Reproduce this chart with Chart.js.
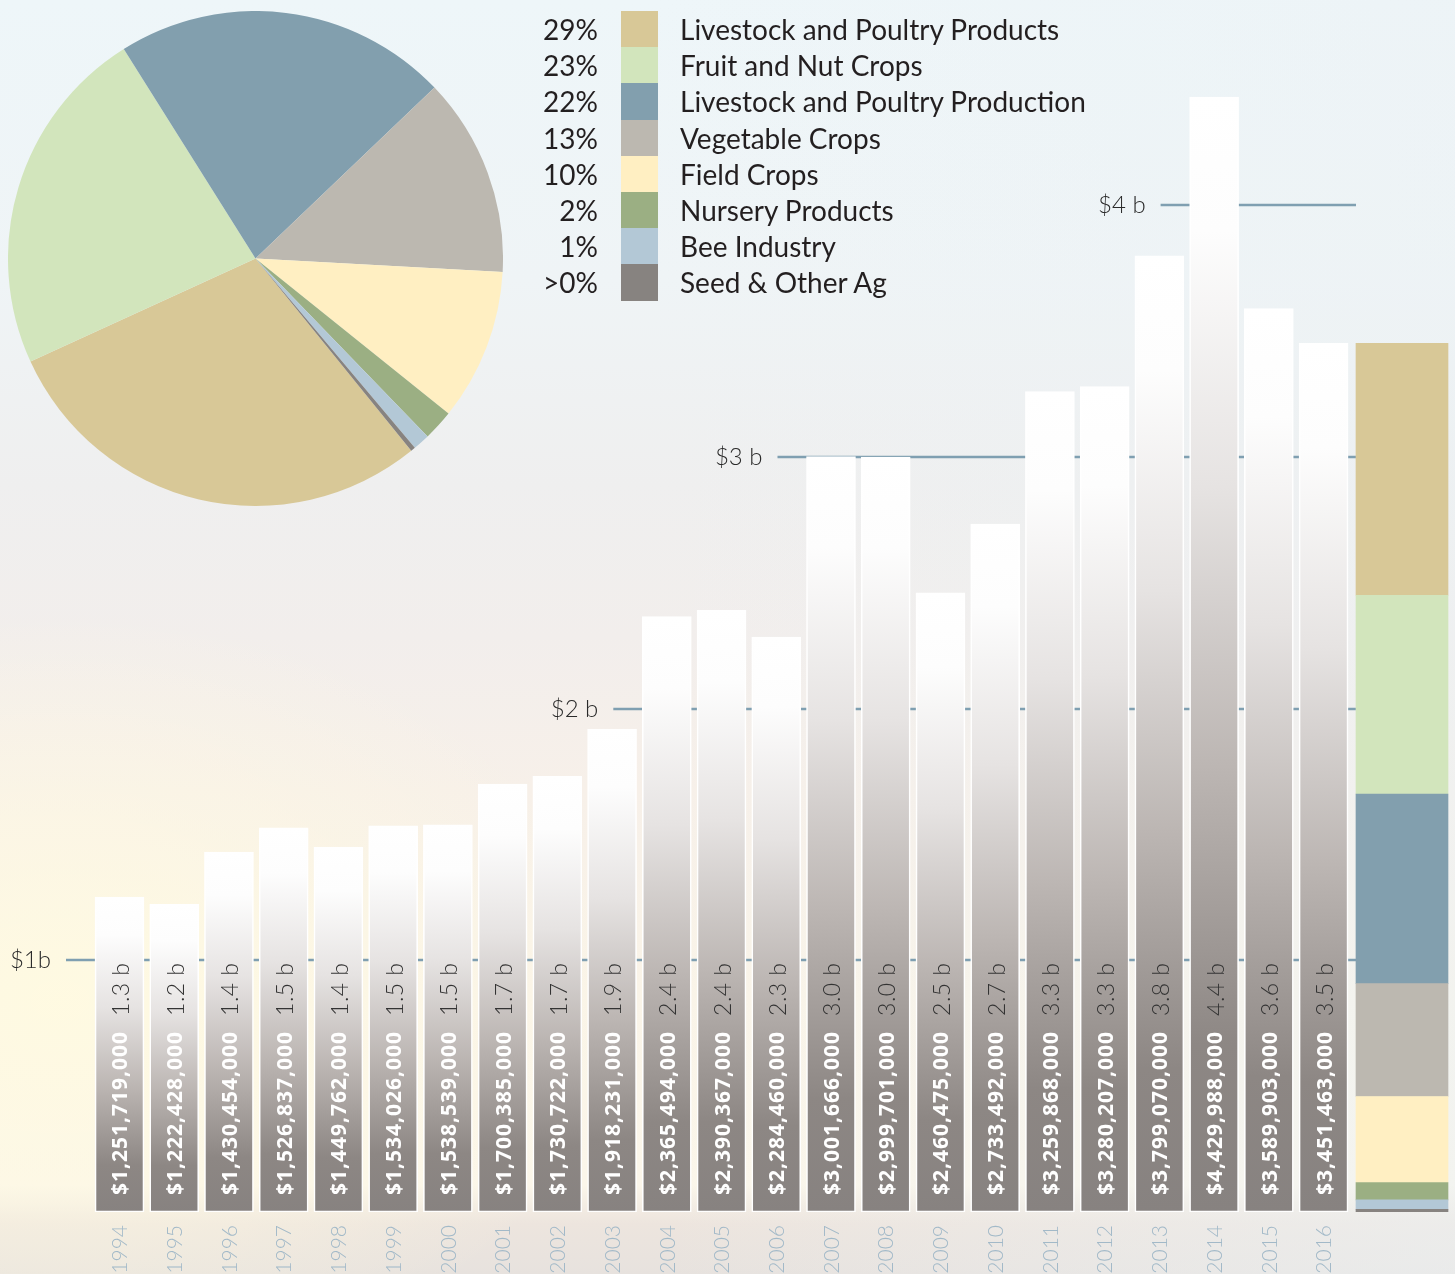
<!DOCTYPE html>
<html><head><meta charset="utf-8">
<script src="https://cdn.jsdelivr.net/npm/chart.js@4.4.0/dist/chart.umd.min.js"></script>
<style>
html,body{margin:0;padding:0;width:1455px;height:1274px;overflow:hidden;}
body{position:relative;
background:
 radial-gradient(ellipse 760px 520px at 60px 1000px, rgba(255,250,225,0.95), rgba(255,250,225,0) 75%),
 linear-gradient(to right, rgba(236,242,245,0) 45%, rgba(236,242,245,0.55) 100%),
 linear-gradient(to bottom, #eef6f9 0%, #eff4f6 22%, #efefef 38%, #f2eeec 50%, #f7f0e9 62%, #faf4e8 78%, #fbf6ea 93%, #ede5de 96%, #e7e2de 100%);
}
#main{position:absolute;left:0;top:0;}
#pieBox{position:absolute;left:8px;top:11px;width:495px;height:495px;}
#legend{position:absolute;left:520px;top:11px;font-family:Lato,"Open Sans",sans-serif;font-size:28px;color:#231f20;}
.row{height:36.2px;display:flex;align-items:center;white-space:nowrap;}
.pct{width:78px;text-align:right;}
.sw{width:37px;height:36.2px;margin-left:23px;}
.lab{margin-left:22px;}
</style>
</head><body>
<canvas id="main" width="1455" height="1274"></canvas>
<div id="pieBox"><canvas id="pie" width="495" height="495"></canvas></div>
<div id="legend"></div>
<script>
// ---- data ----
const years = [1994,1995,1996,1997,1998,1999,2000,2001,2002,2003,2004,2005,2006,2007,2008,2009,2010,2011,2012,2013,2014,2015,2016];
const values = [1251719000,1222428000,1430454000,1526837000,1449762000,1534026000,1538539000,1700385000,1730722000,1918231000,2365494000,2390367000,2284460000,3001666000,2999701000,2460475000,2733492000,3259868000,3280207000,3799070000,4429988000,3589903000,3451463000];
const categories = ["Livestock and Poultry Products","Fruit and Nut Crops","Livestock and Poultry Production","Vegetable Crops","Field Crops","Nursery Products","Bee Industry","Seed & Other Ag"];
const shares = [29.0,22.9,21.8,13.0,9.9,2.0,1.1,0.3];
const shareLabels = ["29%","23%","22%","13%","10%","2%","1%",">0%"];
const colors = ["#d8c897","#d2e5bc","#829fae","#bcb8b0","#ffefc2","#9baf83","#b3c8d6","#878380"];
const tickValues = [1e9,2e9,3e9,4e9];
const tickLabels = ["$1b","$2 b","$3 b","$4 b"];

// ---- layout constants ----
const xMin = 1991.8165, xMax = 2018.4015;
const stackX = 2017.433;
const barW = 49, stackW = 92;
const yMax = 4.8158e9;

function barFill(ctx){
  const chart = ctx.chart;
  if (ctx.type !== 'data' || !chart.chartArea) return '#ffffff';
  const ys = chart.scales.y;
  const top = ys.getPixelForValue(ctx.raw.y), base = ys.getPixelForValue(0);
  const g = chart.ctx.createLinearGradient(0, top, 0, base);
  g.addColorStop(0, '#ffffff');
  g.addColorStop(0.12, '#fdfdfd');
  g.addColorStop(0.35, '#e6e3e2');
  g.addColorStop(0.6, '#bcb6b3');
  g.addColorStop(0.85, '#8d8784');
  g.addColorStop(1, '#878280');
  return g;
}

const fmt = v => '$' + v.toLocaleString('en-US');
const short = v => (v/1e9).toFixed(1) + ' b';

const decor = {
  id:'decor',
  beforeDatasetsDraw(chart){
    const c = chart.ctx, xs = chart.scales.x, ys = chart.scales.y;
    const stackLeft = xs.getPixelForValue(stackX) - stackW/2;
    tickValues.forEach((v,k)=>{
      const i = values.findIndex(d => d >= v);
      const x0 = xs.getPixelForValue(years[i]) - barW/2 - 29;
      const y = Math.round(ys.getPixelForValue(v));
      c.save();
      c.strokeStyle = '#7f9fb1'; c.lineWidth = 2.5;
      c.beginPath(); c.moveTo(x0, y); c.lineTo(stackLeft, y); c.stroke();
      c.font = '300 24px Lato, "Open Sans", sans-serif';
      c.fillStyle = '#2a2a2a'; c.textAlign = 'right'; c.textBaseline = 'middle';
      c.fillText(tickLabels[k], x0 - 15, y);
      c.restore();
    });
  },
  afterDatasetsDraw(chart){
    const c = chart.ctx, xs = chart.scales.x, ys = chart.scales.y;
    const base = ys.getPixelForValue(0);
    years.forEach((yr,i)=>{
      const cx = xs.getPixelForValue(yr);
      c.save();
      c.translate(cx + 2, base - 17);
      c.rotate(-Math.PI/2);
      c.textAlign = 'left'; c.textBaseline = 'middle';
      c.font = 'bold 21px "Open Sans", Lato, sans-serif';
      c.letterSpacing = '1px';
      c.fillStyle = '#ffffff';
      const t = fmt(values[i]);
      c.fillText(t, 0, 0);
      const w = c.measureText(t).width;
      c.letterSpacing = '0.5px';
      c.font = '300 23px Lato, "Open Sans", sans-serif';
      c.fillStyle = '#333333';
      c.fillText(short(values[i]), w + 15, 0);
      c.restore();
      c.save();
      c.translate(cx + 1, base + 13);
      c.rotate(-Math.PI/2);
      c.textAlign = 'right'; c.textBaseline = 'middle';
      c.font = '300 21px Lato, "Open Sans", sans-serif';
      c.fillStyle = '#a2b9c8';
      c.fillText(String(yr), 0, 0);
      c.restore();
    });
  }
};

const total2016 = values[values.length-1];
const shareSum = shares.reduce((a,b)=>a+b,0);
const datasets = [{
  label:'Farm gate value',
  data: years.map((y,i)=>({x:y, y:values[i]})),
  backgroundColor: barFill,
  borderColor:'#ffffff', borderWidth:1.6, borderSkipped:false,
  barThickness: barW, grouped:false, stack:'main'
}];
for (let k = categories.length-1; k >= 0; k--) {
  datasets.push({
    label: categories[k],
    data: [{x: stackX, y: total2016 * shares[k] / shareSum}],
    backgroundColor: colors[k], borderWidth:0,
    barThickness: stackW, grouped:false, stack:'comp'
  });
}

new Chart(document.getElementById('main'), {
  type:'bar',
  data:{datasets},
  options:{
    responsive:false, animation:false, devicePixelRatio:1, events:[],
    layout:{padding:{left:0,right:0,top:0,bottom:62}},
    scales:{
      x:{type:'linear', min:xMin, max:xMax, display:false, offset:false},
      y:{min:0, max:yMax, display:false, stacked:true}
    },
    plugins:{legend:{display:false}, tooltip:{enabled:false}}
  },
  plugins:[decor]
});

new Chart(document.getElementById('pie'), {
  type:'pie',
  data:{labels:categories, datasets:[{data:shares, backgroundColor:colors, borderWidth:0, hoverOffset:0, offset:0}]},
  options:{
    responsive:false, animation:false, devicePixelRatio:1, events:[],
    rotation:141,
    layout:{padding:0},
    plugins:{legend:{display:false}, tooltip:{enabled:false}}
  }
});

const leg = document.getElementById('legend');
categories.forEach((name,k)=>{
  const r = document.createElement('div'); r.className='row';
  const p = document.createElement('span'); p.className='pct'; p.textContent = shareLabels[k];
  const s = document.createElement('span'); s.className='sw'; s.style.background = colors[k];
  const l = document.createElement('span'); l.className='lab'; l.textContent = name;
  r.append(p,s,l); leg.appendChild(r);
});
</script>
</body></html>
